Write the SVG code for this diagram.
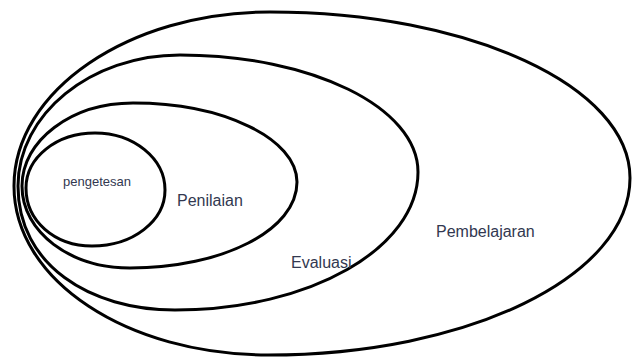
<svg xmlns="http://www.w3.org/2000/svg" width="632" height="358" viewBox="0 0 632 358">
<style>
.ring{fill:none;stroke:#000;stroke-width:3}
.lbl{font-family:"Liberation Sans",Arial,sans-serif;fill:#323850}
</style>
<rect width="632" height="358" fill="#fff"/>
<g id="pembelajaran">
<path class="ring" d="M14,186 C14,90.8 128.6,12 270,12 C469.4,12 630,86.3 630,178 C630,276.3 468.5,355 268,355 C127.7,355 14,280.8 14,186 Z"/>
<text class="lbl" x="436" y="237" font-size="16">Pembelajaran</text>
</g>
<g id="evaluasi">
<path class="ring" d="M18,186 C18,114.5 90.5,55 180,55 C311.4,55 418,107.4 418,172 C418,248 310.3,310 175,310 C89.6,310 18,264.8 18,186 Z"/>
<text class="lbl" x="291" y="268" font-size="16">Evaluasi</text>
</g>
<g id="penilaian">
<path class="ring" d="M22,186 C22,140.5 71.1,103 133,103 C223.6,103 297,138.8 297,182 C297,230.1 222.8,268 130,268 C70.3,268 22,232.2 22,186 Z"/>
<text class="lbl" x="177" y="206" font-size="16">Penilaian</text>
</g>
<g id="pengetesan">
<path class="ring" d="M26,188 C26,157.5 56.3,133 95,133 C133.7,133 165,158.5 165,190 C165,220.9 133,246 92,246 C54.5,246 26,220.9 26,188 Z"/>
<text class="lbl" x="97" y="186" font-size="13" text-anchor="middle">pengetesan</text>
</g>
</svg>
